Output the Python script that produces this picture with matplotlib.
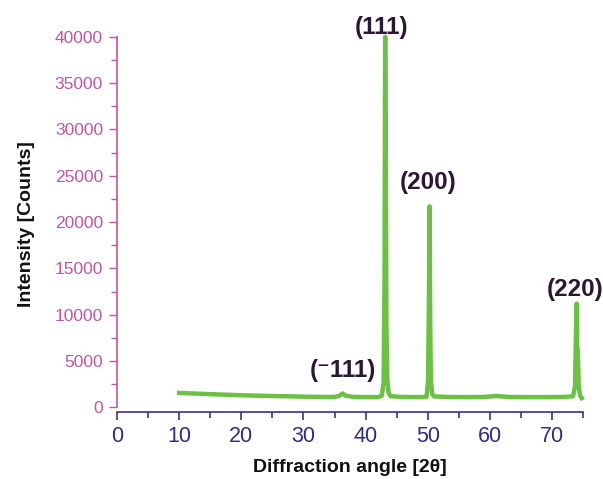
import matplotlib
matplotlib.use("Agg")
import matplotlib.pyplot as plt
import numpy as np

# XRD pattern (2-theta in degrees, intensity in counts)
two_theta = [10.0, 12.0, 15.0, 18.0, 20.0, 23.0, 25.0, 28.0, 30.0, 33.0, 35.0,
             35.8, 36.3, 36.8, 38.0, 40.0, 42.0, 42.6, 42.9, 43.05, 43.15,
             43.25, 43.35, 43.5, 43.7, 44.0, 46.0, 48.0, 49.8, 50.05, 50.2,
             50.3, 50.4, 50.5, 50.7, 51.0, 53.0, 56.0, 59.0, 61.0, 63.0, 66.0,
             69.0, 72.0, 73.4, 73.7, 73.85, 73.95, 74.05, 74.15, 74.3, 74.5,
             74.8]
intensity = [1550, 1500, 1420, 1350, 1300, 1250, 1220, 1180, 1150, 1120, 1120,
             1250, 1500, 1250, 1130, 1100, 1100, 1250, 2600, 14000, 40000,
             28000, 9000, 3000, 1600, 1200, 1120, 1100, 1120, 2800, 12000,
             21700, 9000, 3000, 1500, 1180, 1120, 1100, 1120, 1220, 1120, 1100,
             1100, 1120, 1200, 2300, 8000, 11200, 6300, 6200, 2200, 1300,
             1000]

peak_labels = ["(111)", "(200)", "(220)", "(\u207b111)"]
label_x = [42.5, 50.0, 73.75, 36.3]
label_y = [41000, 24300, 12700, 3950]

plt.rcParams["font.family"] = ["Liberation Sans", "DejaVu Sans"]

fig = plt.figure(figsize=(6.03, 4.79), dpi=100)
ax = fig.add_axes([0.194, 0.14, 0.773, 0.783])

ax.plot(two_theta, intensity, color="#6cc043", linewidth=3.2,
        solid_joinstyle="round", clip_on=False)

for lab, lx, ly in zip(peak_labels, label_x, label_y):
    ax.text(lx, ly, lab, ha="center", va="center", fontsize=17.5,
            fontweight="bold", color="#2a1832", clip_on=False)

ax.set_xlim(0, 75)
ax.set_ylim(-500, 40000)
ax.set_xticks(np.arange(0, 71, 10))
ax.set_xticks(np.arange(5, 76, 10), minor=True)
ax.set_yticks(np.arange(0, 40001, 5000))
ax.set_yticks(np.arange(2500, 40000, 5000), minor=True)

ax.spines["top"].set_visible(False)
ax.spines["right"].set_visible(False)
ax.spines["bottom"].set_color("#33358a")
ax.spines["left"].set_color("#c0569f")
ax.spines["left"].set_bounds(0, 40000)
ax.spines["bottom"].set_linewidth(1.2)
ax.spines["left"].set_linewidth(1.2)

ax.tick_params(axis="x", which="both", colors="#33358a", labelsize=15.5,
               direction="out", length=6, width=1.2, pad=4)
ax.tick_params(axis="x", which="minor", length=4)
ax.tick_params(axis="y", which="both", colors="#c0569f", labelsize=12.5,
               direction="out", length=6, width=1.0, pad=4)
ax.tick_params(axis="y", which="minor", length=4)
for t in ax.get_xticklabels():
    t.set_color("#2e2f80")

ax.set_xlabel("Diffraction angle [2\u03b8]", fontsize=14, fontweight="bold",
              color="#111111", labelpad=9)
ax.set_ylabel("Intensity [Counts]", fontsize=14, fontweight="bold",
              color="#111111", labelpad=14)

fig.savefig("out.png", dpi=100)
